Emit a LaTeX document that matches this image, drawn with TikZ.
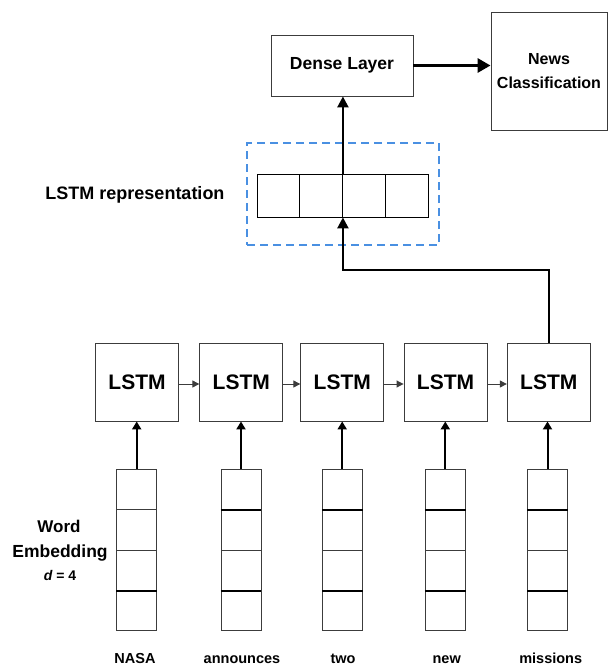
\documentclass[tikz,border=0pt]{standalone}
\usepackage{fontspec}
\setmainfont{Liberation Sans}
\usetikzlibrary{arrows.meta,positioning}
\definecolor{dashblue}{RGB}{74,144,226}
\definecolor{edgegray}{RGB}{60,60,60}
\tikzset{
  box/.style={draw=edgegray, line width=0.9pt, rectangle, inner sep=0pt, font=\bfseries},
  lstmbox/.style={box, minimum width=83pt, minimum height=78pt, font=\fontsize{21}{24}\selectfont\bfseries},
  repcell/.style={draw=black, line width=0.9pt, rectangle, inner sep=0pt, minimum width=42.75pt, minimum height=43pt},
  embcell/.style={draw=edgegray, line width=0.9pt, rectangle, inner sep=0pt, minimum width=40pt, minimum height=40.4pt},
  lbl/.style={inner sep=0pt, font=\bfseries},
  bigarrow/.style={line width=3pt, -{Triangle[length=13pt,width=14pt]}},
  uparrow/.style={line width=2.3pt, -{Triangle[length=11pt,width=11pt]}},
  smallup/.style={line width=2pt, -{Triangle[length=8pt,width=9pt]}},
  chain/.style={line width=1pt, draw=edgegray, -{Triangle[length=7pt,width=7pt]}},
  sep/.style={line width=2pt, draw=black},
}
\begin{document}
\begin{tikzpicture}[x=1pt,y=-1pt]
\useasboundingbox (0,0) rectangle (608,665);

% classifier head
\node[box, minimum width=142pt, minimum height=61pt, font=\fontsize{17.5}{20}\selectfont\bfseries] (dense) at (342,65.5) {Dense Layer};
\node[box, minimum width=116pt, minimum height=118pt, align=center, font=\fontsize{16}{24}\selectfont\bfseries] (news) at (549,71) {News\\Classification};
\draw[bigarrow] (dense.east) -- (news.west |- dense.east);

% LSTM representation vector
\node[draw=dashblue, dashed, dash pattern=on 8pt off 5pt, line width=2.2pt, minimum width=192pt, minimum height=102pt, inner sep=0pt] (repbox) at (343,194) {};
\node[repcell] (r1) at (278.4,195.5) {};
\node[repcell] (r2) at (321.1,195.5) {};
\node[repcell] (r3) at (363.9,195.5) {};
\node[repcell] (r4) at (406.6,195.5) {};
\node[lbl, font=\fontsize{18}{20}\selectfont\bfseries] (replbl) at (135,195) {LSTM representation};
\draw[uparrow] (r2.north east) -- (r2.north east |- dense.south);

% recurrent chain
\node[lstmbox] (l1) at (137,382) {LSTM};
\node[lstmbox] (l2) at (241.3,382) {LSTM};
\node[lstmbox] (l3) at (342.3,382) {LSTM};
\node[lstmbox] (l4) at (445.5,382) {LSTM};
\node[lstmbox] (l5) at (548.8,382) {LSTM};
\foreach \a/\b in {l1/l2,l2/l3,l3/l4,l4/l5}
  \draw[chain] ([yshift=-2pt]\a.east) -- ([yshift=-2pt]\b.west);

\coordinate (bend) at (549,270);
\draw[line width=2.3pt, -{Triangle[length=11pt,width=11pt]}]
  (l5.north -| bend) -- (bend) -- (bend -| r2.south east) -- (r2.south east);

% word embeddings
\foreach \i/\x in {1/136.7,2/241,3/342.2,4/445.3,5/547.5}{
  \node[embcell] (e\i a) at (\x,489.5) {};
  \node[embcell] (e\i b) at (\x,529.9) {};
  \node[embcell] (e\i c) at (\x,570.3) {};
  \node[embcell] (e\i d) at (\x,610.7) {};
  \draw[sep] (e\i c.south west) -- (e\i c.south east);
  \draw[smallup] (e\i a.north) -- (e\i a.north |- l\i.south);
}
\foreach \i in {2,3,4,5}
  \draw[sep] (e\i a.south west) -- (e\i a.south east);

\node[lbl, font=\fontsize{17}{20}\selectfont\bfseries] (wlbl1) at (59,526.7) {Word};
\node[lbl, font=\fontsize{17.5}{20}\selectfont\bfseries] (wlbl2) at (60,552.7) {Embedding};
\node[lbl, font=\fontsize{14}{16}\selectfont\bfseries] (wlbl3) at (60,575.7) {\itshape d\upshape\ = 4};

\foreach \i/\x/\w in {1/135/NASA,2/242/announces,3/343/two,4/446.7/new,5/550.7/missions}
  \node[lbl, font=\fontsize{14.5}{16}\selectfont\bfseries, anchor=base] (w\i) at (\x,663) {\w};
\end{tikzpicture}
\end{document}
